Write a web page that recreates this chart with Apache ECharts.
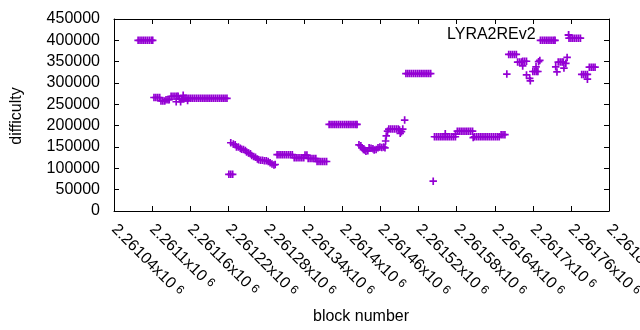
<!DOCTYPE html>
<html>
<head>
<meta charset="utf-8">
<script src="https://cdn.jsdelivr.net/npm/echarts@6/dist/echarts.min.js"></script>
<style>html,body{margin:0;padding:0;background:#fff}#c{width:640px;height:330px}</style>
</head>
<body>
<div id="c"></div>
<script>
// ---- data ----
const seriesName = 'LYRA2REv2';
const xAxisTitle = 'block number';
const yAxisTitle = 'difficulty';
const xMin = 2261040, xMax = 2261820, xStep = 60;
const yMin = 0, yMax = 450000, yStep = 50000;
const xTickMantissas = ['2.26104','2.2611','2.26116','2.26122','2.26128','2.26134','2.2614','2.26146','2.26152','2.26158','2.26164','2.2617','2.26176','2.26182'];
const xTickExponent = '6';

const seg1 = [[2261078,400000],[2261081,400000],[2261084,400000],[2261087,400000],[2261090,400000],[2261093,400000],[2261096,400000],[2261099,400000],[2261101,400000]];
const seg2 = [[2261103,266000],[2261106,266000],[2261109,266000],[2261112,266000],
  [2261114,258000],[2261117,258000],[2261120,258000],
  [2261122,261000],[2261125,261000],[2261127,261000],
  [2261130,269000],[2261133,269000],[2261136,269000],[2261139,269000],[2261141,269000],
  [2261138,256000],[2261145,256000],[2261149,271000],
  [2261143,263000],[2261146,263000],[2261148,263000],[2261150,263000],
  [2261152,264000],[2261155,264000],[2261156,259000],[2261158,264000],[2261161,264000],[2261164,264000],[2261167,264000],
  [2261170,264000],[2261173,264000],[2261176,264000],[2261179,264000],[2261182,264000],[2261185,264000],
  [2261188,264000],[2261191,264000],[2261194,264000],[2261197,264000],[2261200,264000],[2261203,264000],
  [2261206,264000],[2261209,264000],[2261212,264000],[2261215,264000],[2261218,264000]];
const seg3 = [[2261221,86000],[2261224,86000],[2261227,86000]];
const seg4 = [[2261224,160000],[2261228,157000],[2261231,155000],[2261233,150000],[2261236,150000],[2261239,147000],
  [2261241,145000],[2261244,144000],[2261247,142000],[2261249,138000],[2261252,136000],[2261255,134000],
  [2261257,130000],[2261260,128000],[2261263,126000],[2261266,122000],[2261268,120000],[2261271,119000],
  [2261274,119000],[2261277,118000],[2261280,118000],[2261283,116000],[2261286,113000],[2261289,110000],
  [2261292,108000],[2261294,109000]];
const seg5 = [[2261297,132000],[2261300,132000],[2261303,132000],[2261306,132000],[2261309,132000],[2261312,132000],
  [2261315,132000],[2261318,132000],[2261321,132000],
  [2261324,125000],[2261327,125000],[2261330,125000],[2261333,125000],[2261336,125000],[2261339,125000],
  [2261341,131000],[2261344,131000],
  [2261346,123000],[2261349,123000],[2261352,123000],[2261355,123000],[2261358,123000],
  [2261360,116000],[2261363,116000],[2261366,116000],[2261369,116000],[2261372,116000],[2261375,116000]];
const seg6 = [[2261379,203000],[2261382,203000],[2261385,203000],[2261388,203000],[2261391,203000],[2261394,203000],
  [2261397,203000],[2261400,203000],[2261403,203000],[2261406,203000],[2261409,203000],[2261412,203000],
  [2261415,203000],[2261418,203000],[2261421,203000],[2261423,203000]];
const seg7 = [[2261426,155000],[2261429,153000],[2261431,148000],[2261433,144000],[2261435,143000],[2261437,140000],
  [2261440,141000],[2261442,148000],[2261445,147000],[2261448,146000],[2261450,143000],[2261453,144000],
  [2261456,148000],[2261459,150000],[2261462,149000],[2261465,150000],[2261467,148000],
  [2261468,164000],[2261469,176000],[2261471,187000],
  [2261473,192000],[2261476,192000],[2261479,192000],[2261482,192000],[2261485,192000],[2261488,192000],
  [2261490,190000],[2261491,182000],[2261493,186000],[2261495,192000],[2261498,213000]];
const seg8 = [[2261500,322000],[2261503,322000],[2261506,322000],[2261509,322000],[2261512,322000],[2261515,322000],
  [2261518,322000],[2261521,322000],[2261524,322000],[2261527,322000],[2261530,322000],[2261533,322000],
  [2261536,322000],[2261539,322000]];
const seg9 = [[2261543,70000]];
const seg10 = [[2261545,174000],[2261548,174000],[2261551,174000],[2261554,174000],[2261557,174000],[2261560,174000],
  [2261563,174000],[2261566,174000],[2261569,174000],[2261572,174000],[2261575,174000],[2261578,174000],
  [2261562,181000],[2261578,180000],
  [2261581,187000],[2261584,187000],[2261587,187000],[2261590,187000],[2261593,187000],[2261596,187000],
  [2261599,187000],[2261602,187000],[2261605,187000],[2261606,172000],
  [2261608,174000],[2261611,174000],[2261614,174000],[2261617,174000],[2261620,174000],[2261623,174000],
  [2261626,174000],[2261629,174000],[2261632,174000],[2261635,174000],[2261638,174000],[2261641,174000],
  [2261644,174000],[2261647,174000],
  [2261650,179000],[2261653,179000],[2261656,179000]];
const seg11 = [[2261659,321000],
  [2261662,367000],[2261665,367000],[2261668,367000],[2261671,367000],[2261674,367000],
  [2261676,349000],[2261679,349000],[2261682,349000],
  [2261684,351000],[2261687,351000],[2261690,351000],
  [2261684,340000],[2261690,319000],[2261695,311000],[2261696,305000],
  [2261700,327000],[2261703,327000],[2261706,327000],[2261708,327000],
  [2261705,338000],[2261709,350000],[2261711,353000],
  [2261712,400000],[2261715,400000],[2261718,400000],[2261721,400000],[2261724,400000],[2261727,400000],
  [2261730,400000],[2261733,400000],[2261735,400000],
  [2261736,338000],[2261738,326000],
  [2261740,349000],[2261743,349000],[2261746,349000],[2261748,349000],
  [2261749,335000],[2261752,346000],[2261754,360000],
  [2261757,405000],[2261760,405000],[2261763,405000],[2261766,405000],[2261769,405000],[2261772,405000],[2261775,405000],
  [2261777,320000],[2261780,320000],[2261783,320000],[2261786,320000],[2261786,309000],
  [2261789,337000],[2261792,337000],[2261795,337000],[2261798,337000]];

const difficultyPoints = [].concat(seg1, seg2, seg3, seg4, seg5, seg6, seg7, seg8, seg9, seg10, seg11);

// ---- chart ----
const FONT = '"Liberation Sans", Arial, sans-serif';
const COLOR = '#9400d3';
const crossPath = 'path://M-0.9,-4L0.9,-4L0.9,-0.9L4,-0.9L4,0.9L0.9,0.9L0.9,4L-0.9,4L-0.9,0.9L-4,0.9L-4,-0.9L-0.9,-0.9Z';

const chart = echarts.init(document.getElementById('c'), null, {renderer: 'canvas'});
const axisCommon = {
  axisLine: {show: true, onZero: false, lineStyle: {color: '#000', width: 1}},
  axisTick: {show: true, inside: true, length: 5, lineStyle: {color: '#000', width: 1}},
  splitLine: {show: false}
};
chart.setOption({
  animation: false,
  backgroundColor: '#fff',
  textStyle: {fontFamily: FONT},
  grid: {left: 114, right: 31, top: 19, bottom: 119, containLabel: false, outerBoundsMode: 'none'},
  legend: {
    data: [{name: seriesName, icon: crossPath}],
    align: 'right', left: 447, top: 27, padding: 0,
    itemWidth: 56, itemHeight: 8, symbolKeepAspect: true,
    textStyle: {fontSize: 16, color: '#000', fontFamily: FONT},
    selectedMode: false
  },
  xAxis: [
    Object.assign({}, axisCommon, {
      type: 'value', min: xMin, max: xMax, interval: xStep, position: 'bottom',
      axisLabel: {
        show: true, rotate: -45, margin: 16, color: '#000', fontSize: 16, fontFamily: FONT,
        formatter: function (v) {
          const i = Math.round((v - xMin) / xStep);
          return '{m|' + xTickMantissas[i] + 'x10}{s|' + xTickExponent + '}';
        },
        rich: {
          m: {fontSize: 16, fontFamily: FONT, color: '#000'},
          s: {fontSize: 12, fontFamily: FONT, color: '#000', verticalAlign: 'top', padding: [0, 0, 0, 4]}
        }
      }
    }),
    Object.assign({}, axisCommon, {
      type: 'value', min: xMin, max: xMax, interval: xStep, position: 'top',
      axisLabel: {show: false}
    })
  ],
  yAxis: [
    Object.assign({}, axisCommon, {
      type: 'value', min: yMin, max: yMax, interval: yStep, position: 'left',
      axisLabel: {show: true, margin: 14, color: '#000', fontSize: 16, fontFamily: FONT,
        formatter: function (v) { return String(v); }}
    }),
    Object.assign({}, axisCommon, {
      type: 'value', min: yMin, max: yMax, interval: yStep, position: 'right',
      axisLabel: {show: false}
    })
  ],
  graphic: [
    {type: 'text', x: 17, y: 116, rotation: Math.PI / 2,
      style: {text: yAxisTitle, fill: '#000', font: '16px ' + FONT, align: 'center', verticalAlign: 'middle'}},
    {type: 'text', x: 361, y: 317,
      style: {text: xAxisTitle, fill: '#000', font: '16px ' + FONT, align: 'center', verticalAlign: 'middle'}}
  ],
  series: [{
    name: seriesName, type: 'scatter', xAxisIndex: 0, yAxisIndex: 0,
    symbol: crossPath, symbolSize: 7.5,
    itemStyle: {color: COLOR, opacity: 1},
    emphasis: {disabled: true},
    data: difficultyPoints
  }]
});
</script>
</body>
</html>
